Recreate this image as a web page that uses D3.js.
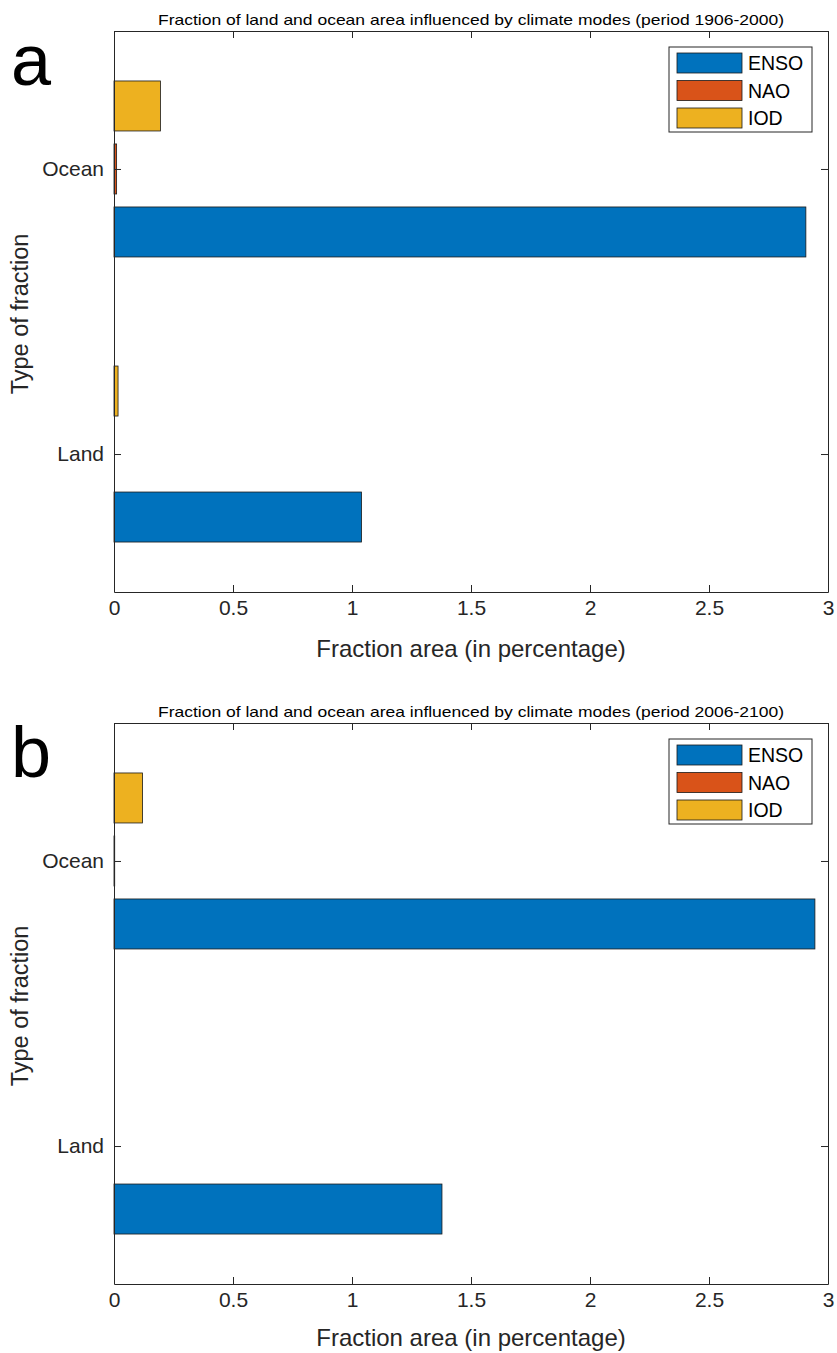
<!DOCTYPE html>
<html>
<head>
<meta charset="utf-8">
<script src="https://cdn.jsdelivr.net/npm/d3@7"></script>
<style>
  html, body { margin: 0; padding: 0; background: #fff; }
  svg { display: block; font-family: "Liberation Sans", Arial, sans-serif; }
</style>
</head>
<body>
<svg id="chart" width="837" height="1353"></svg>
<script>
// ---- data ----
const categories = ["Land", "Ocean"];
const seriesNames = ["ENSO", "NAO", "IOD"];
const seriesColors = ["#0072BD", "#D95319", "#EDB120"];
const xTicks = [0, 0.5, 1, 1.5, 2, 2.5, 3];

// panel a (1906-2000): values per category [Land, Ocean]
const ensoA = [1.04, 2.907];
const naoA  = [0, 0.011];
const iodA  = [0.017, 0.195];
// panel b (2006-2100)
const ensoB = [1.378, 2.945];
const naoB  = [0, 0.003];
const iodB  = [0, 0.12];

const panels = [
  { letter: "a", title: "Fraction of land and ocean area influenced by climate modes (period 1906-2000)", values: [ensoA, naoA, iodA], dy: 0, labDy: 0 },
  { letter: "b", title: "Fraction of land and ocean area influenced by climate modes (period 2006-2100)", values: [ensoB, naoB, iodB], dy: 692, labDy: 689 }
];

const svg = d3.select("#chart");
const axisColor = "#262626";
const FONT = "'Liberation Sans', Arial, sans-serif";

const x = d3.scaleLinear().domain([0, 3]).range([114, 828]);
const catIndex = d3.scaleOrdinal().domain(categories).range([1, 2]);
const offset = d3.scalePoint().domain(seriesNames).range([-0.221, 0.221]);
const barHalf = 0.0877;

panels.forEach(p => {
  const top = 31 + p.dy, bottom = 592 + p.dy;
  const y = d3.scaleLinear().domain([0.516, 2.484]).range([bottom, top]);
  const g = svg.append("g");

  // bars
  seriesNames.forEach((s, si) => {
    categories.forEach((c, ci) => {
      const v = p.values[si][ci];
      if (v <= 0) return;
      const yc = catIndex(c) + offset(s);
      g.append("rect")
        .attr("x", x(0))
        .attr("y", y(yc + barHalf))
        .attr("width", x(v) - x(0))
        .attr("height", y(yc - barHalf) - y(yc + barHalf))
        .attr("fill", seriesColors[si])
        .attr("stroke", "#1a1a1a")
        .attr("stroke-width", 0.8);
    });
  });

  // axes
  const styleAxis = sel => {
    sel.selectAll("path.domain").attr("stroke", axisColor).attr("stroke-width", 1);
    sel.selectAll(".tick line").attr("stroke", axisColor).attr("stroke-width", 1);
    sel.selectAll(".tick text").attr("fill", axisColor).attr("font-family", FONT);
  };

  const xb = g.append("g").attr("transform", `translate(0,${bottom})`)
    .call(d3.axisBottom(x).tickValues(xTicks).tickFormat(d3.format("")).tickSizeInner(-7).tickSizeOuter(0).tickPadding(8));
  xb.selectAll(".tick text").attr("font-size", 21);
  styleAxis(xb);

  const xt = g.append("g").attr("transform", `translate(0,${top})`)
    .call(d3.axisTop(x).tickValues(xTicks).tickFormat("").tickSizeInner(-7).tickSizeOuter(0));
  styleAxis(xt);

  const yl = g.append("g").attr("transform", `translate(${x(0)},0)`)
    .call(d3.axisLeft(y).tickValues([1, 2]).tickFormat((d, i) => categories[i]).tickSizeInner(-7).tickSizeOuter(0).tickPadding(10));
  yl.selectAll(".tick text").attr("font-size", 21);
  styleAxis(yl);

  const yr = g.append("g").attr("transform", `translate(${x(3)},0)`)
    .call(d3.axisRight(y).tickValues([1, 2]).tickFormat("").tickSizeInner(-7).tickSizeOuter(0));
  styleAxis(yr);

  // title
  g.append("text")
    .attr("x", (x(0) + x(3)) / 2)
    .attr("y", 25 + p.dy)
    .attr("text-anchor", "middle")
    .attr("font-size", 15)
    .attr("textLength", 626)
    .attr("lengthAdjust", "spacingAndGlyphs")
    .attr("fill", "#000")
    .text(p.title);

  // x label
  g.append("text")
    .attr("x", (x(0) + x(3)) / 2)
    .attr("y", 657 + p.labDy)
    .attr("text-anchor", "middle")
    .attr("font-size", 24)
    .attr("fill", axisColor)
    .text("Fraction area (in percentage)");

  // y label
  g.append("text")
    .attr("transform", `translate(28,${314 + p.dy}) rotate(-90)`)
    .attr("text-anchor", "middle")
    .attr("font-size", 23.5)
    .attr("fill", axisColor)
    .text("Type of fraction");

  // panel letter
  g.append("text")
    .attr("x", 11)
    .attr("y", 85 + p.dy)
    .attr("font-size", 72)
    .attr("fill", "#000")
    .text(p.letter);

  // legend
  const lg = g.append("g").attr("transform", `translate(669,${47 + p.dy})`);
  lg.append("rect").attr("width", 143).attr("height", 85)
    .attr("fill", "#fff").attr("stroke", axisColor).attr("stroke-width", 1);
  seriesNames.forEach((s, i) => {
    const yy = 6 + i * 27.5;
    lg.append("rect").attr("x", 8).attr("y", yy).attr("width", 65).attr("height", 20)
      .attr("fill", seriesColors[i]).attr("stroke", "#1a1a1a").attr("stroke-width", 0.8);
    lg.append("text").attr("x", 79).attr("y", yy + 17)
      .attr("font-size", 19.5).attr("fill", "#000").text(s);
  });
});
</script>
</body>
</html>
